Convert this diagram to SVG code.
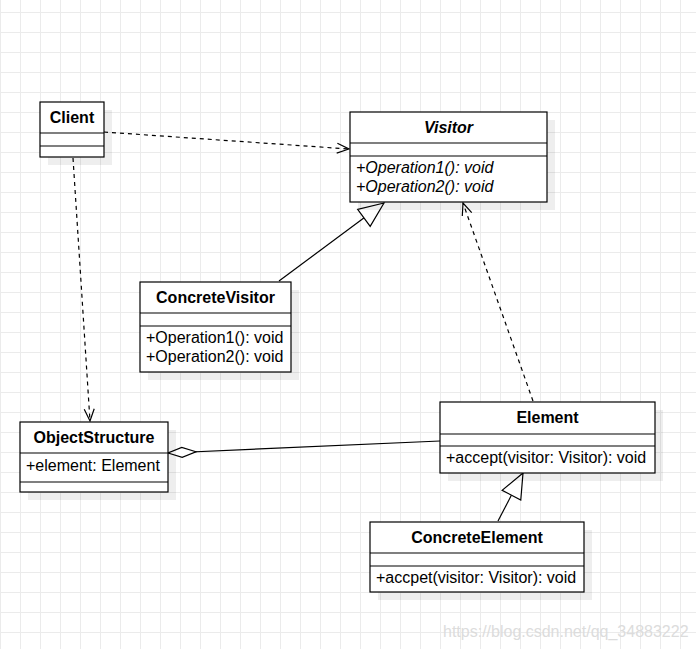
<svg xmlns="http://www.w3.org/2000/svg" width="696" height="649" viewBox="0 0 696 649">
<defs>
<pattern id="grid" x="0" y="12" width="20" height="20" patternUnits="userSpaceOnUse">
<path d="M0.5,0 V20 M0,0.5 H20" fill="none" stroke="#ebebeb" stroke-width="1"/>
</pattern>
<marker id="open" markerUnits="userSpaceOnUse" markerWidth="20" markerHeight="20" orient="auto" refX="0" refY="0" overflow="visible">
<path d="M-12,-5 L0,0 L-12,5" fill="none" stroke="#000" stroke-width="1.2"/>
</marker>
<marker id="tri" markerUnits="userSpaceOnUse" markerWidth="30" markerHeight="30" orient="auto" refX="0" refY="0" overflow="visible">
<path d="M0,0 L-25,-10.5 L-25,10.5 Z" fill="#fff" stroke="#000" stroke-width="1.2"/>
</marker>
<marker id="diamond" markerUnits="userSpaceOnUse" markerWidth="30" markerHeight="30" orient="auto" refX="0" refY="0" overflow="visible">
<path d="M0,0 L-14,-5 L-28,0 L-14,5 Z" fill="#fff" stroke="#000" stroke-width="1.2"/>
</marker>
</defs>
<style>
.box{fill:#fff;stroke:#000;stroke-width:1.2}
.shadow{fill:#000;fill-opacity:0.065}
.div{stroke:#000;stroke-width:1.2}
.title{font-family:"Liberation Sans",Arial,sans-serif;font-size:16px;font-weight:bold;text-anchor:middle;fill:#000}
.it{font-style:italic}
.member{font-family:"Liberation Sans",Arial,sans-serif;font-size:16px;fill:#000}
.line{fill:none;stroke:#000;stroke-width:1.2}
.dash{stroke-dasharray:4 4}
.wm{font-family:"Liberation Sans",Arial,sans-serif;font-size:16px;fill:#dcdcdc}
</style>
<rect width="696" height="649" fill="#fff"/>
<rect width="696" height="649" fill="url(#grid)"/>

<g id="connectors">
<path class="line dash" d="M104,132 L349,149" marker-end="url(#open)"/>
<path class="line dash" d="M73,158 L90,421" marker-end="url(#open)"/>
<path class="line" d="M279,281 L384,203" marker-end="url(#tri)"/>
<path class="line dash" d="M533,401 L463,203" marker-end="url(#open)"/>
<path class="line" d="M440,441 L168,453" marker-end="url(#diamond)"/>
<path class="line" d="M498,521 L523,473" marker-end="url(#tri)"/>
</g>

<g id="client">
<rect class="shadow" x="48" y="110" width="64" height="55"/>
<rect class="box" x="40" y="102" width="64" height="55"/>
<line class="div" x1="40" y1="133" x2="104" y2="133"/>
<line class="div" x1="40" y1="146" x2="104" y2="146"/>
<text class="title" x="72" y="123">Client</text>
</g>

<g id="visitor">
<rect class="shadow" x="358" y="120" width="197" height="90"/>
<rect class="box" x="350" y="112" width="197" height="90"/>
<line class="div" x1="350" y1="143" x2="547" y2="143"/>
<line class="div" x1="350" y1="156" x2="547" y2="156"/>
<text class="title it" x="448.5" y="133">Visitor</text>
<text class="member it" x="356" y="173">+Operation1(): void</text>
<text class="member it" x="356" y="192">+Operation2(): void</text>
</g>

<g id="concretevisitor">
<rect class="shadow" x="148" y="290" width="151" height="90"/>
<rect class="box" x="140" y="282" width="151" height="90"/>
<line class="div" x1="140" y1="313" x2="291" y2="313"/>
<line class="div" x1="140" y1="326" x2="291" y2="326"/>
<text class="title" x="215.5" y="303">ConcreteVisitor</text>
<text class="member" x="146" y="343">+Operation1(): void</text>
<text class="member" x="146" y="362">+Operation2(): void</text>
</g>

<g id="objectstructure">
<rect class="shadow" x="28" y="430" width="148" height="70"/>
<rect class="box" x="20" y="422" width="148" height="70"/>
<line class="div" x1="20" y1="453" x2="168" y2="453"/>
<line class="div" x1="20" y1="482" x2="168" y2="482"/>
<text class="title" x="94" y="443">ObjectStructure</text>
<text class="member" x="26" y="471">+element: Element</text>
</g>

<g id="element">
<rect class="shadow" x="448" y="410" width="215" height="71"/>
<rect class="box" x="440" y="402" width="215" height="71"/>
<line class="div" x1="440" y1="434" x2="655" y2="434"/>
<line class="div" x1="440" y1="446" x2="655" y2="446"/>
<text class="title" x="547.5" y="423">Element</text>
<text class="member" x="446" y="463">+accept(visitor: Visitor): void</text>
</g>

<g id="concreteelement">
<rect class="shadow" x="378" y="530" width="214" height="70"/>
<rect class="box" x="370" y="522" width="214" height="70"/>
<line class="div" x1="370" y1="553" x2="584" y2="553"/>
<line class="div" x1="370" y1="566" x2="584" y2="566"/>
<text class="title" x="477" y="543">ConcreteElement</text>
<text class="member" x="376" y="583">+accpet(visitor: Visitor): void</text>
</g>

<text class="wm" x="443" y="637">https://blog.csdn.net/qq_34883222</text>
</svg>
